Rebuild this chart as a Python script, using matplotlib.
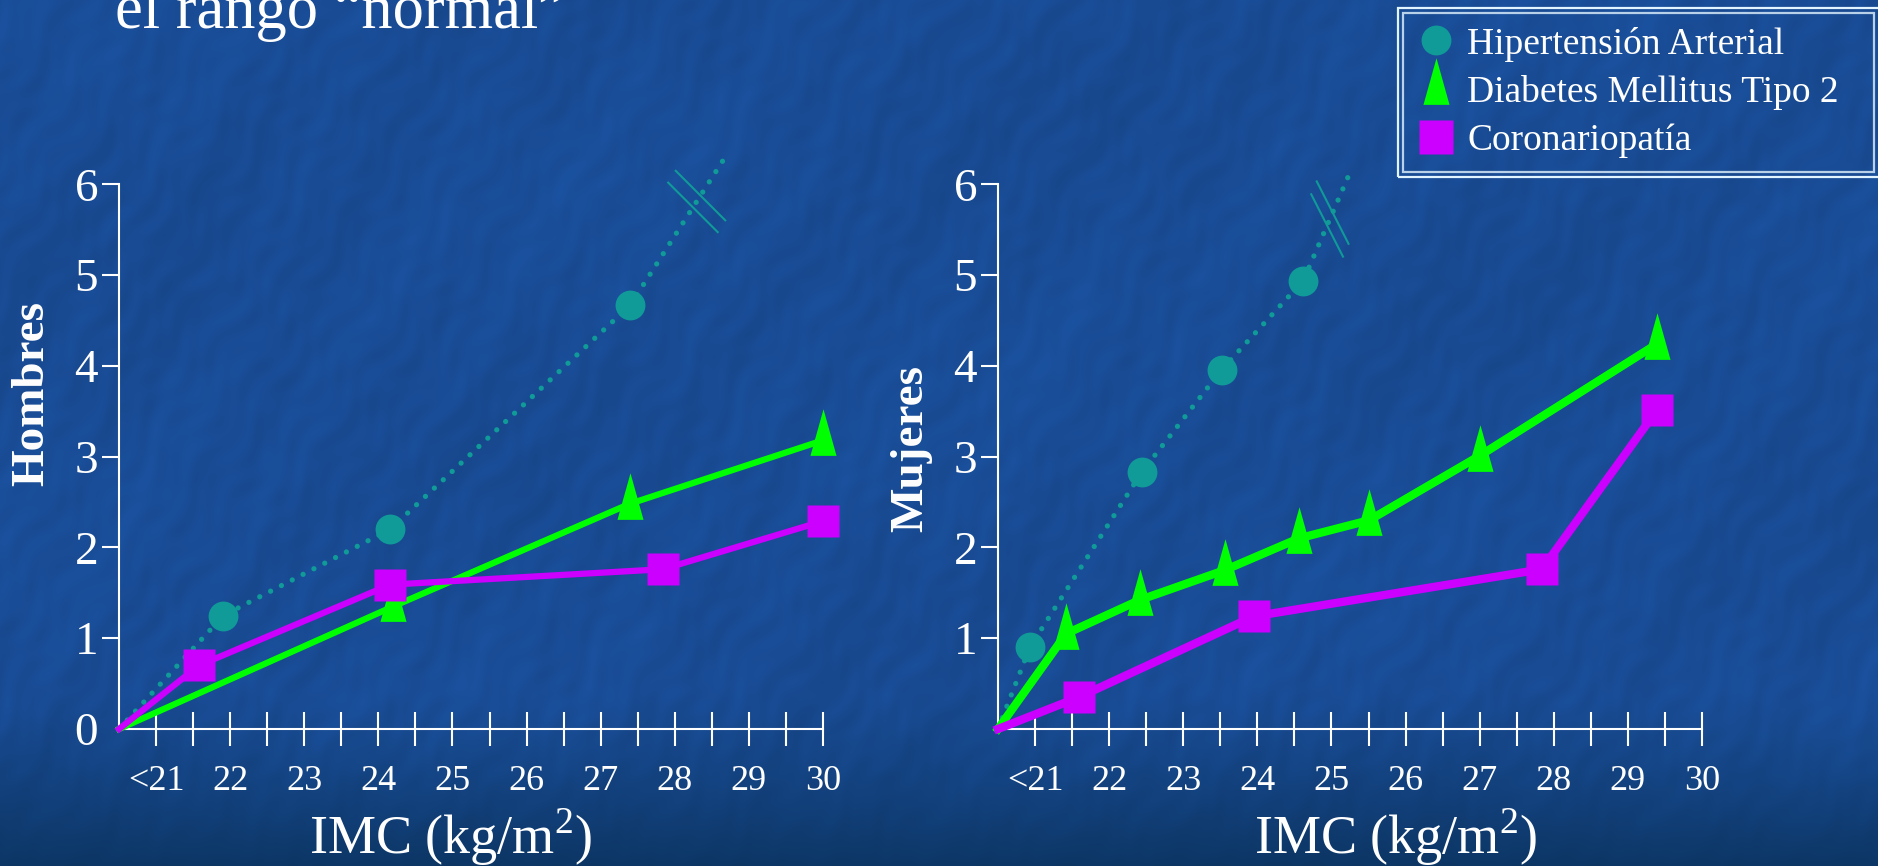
#!/usr/bin/env python3

import numpy as np
import matplotlib
matplotlib.use("Agg")
import matplotlib.pyplot as plt
from matplotlib.lines import Line2D
from matplotlib.patches import Rectangle

plt.rcParams["font.family"] = ["Liberation Serif", "DejaVu Serif"]
plt.rcParams["mathtext.fontset"] = "custom"
plt.rcParams["mathtext.rm"] = "Liberation Serif"

# IMC axis labels
imc_ticks = [21, 22, 23, 24, 25, 26, 27, 28, 29, 30]
imc_labels = ["<21", "22", "23", "24", "25", "26", "27", "28", "29", "30"]

series_names = ["Hipertensión Arterial", "Diabetes Mellitus Tipo 2", "Coronariopatía"]

# Hombres (each curve starts at the axis origin)
h_hta_x = [20.5, 21.91, 24.16, 27.40]
h_hta_y = [0.0, 1.25, 2.20, 4.67]
h_hta_off = [28.68, 6.30]          # dotted line runs off the scale
h_dm_x = [20.5, 24.20, 27.39, 30.0]
h_dm_y = [0.0, 1.35, 2.48, 3.18]
h_cor_x = [20.5, 21.58, 24.16, 27.84, 30.0]
h_cor_y = [0.0, 0.70, 1.59, 1.76, 2.29]

# Mujeres
m_hta_x = [20.5, 20.93, 22.44, 23.52, 24.62]
m_hta_y = [0.0, 0.90, 2.83, 3.96, 4.94]
m_hta_off = [25.26, 6.15]
m_dm_x = [20.5, 21.42, 22.41, 23.56, 24.56, 25.51, 27.0, 29.39]
m_dm_y = [0.0, 1.05, 1.42, 1.75, 2.10, 2.30, 3.01, 4.24]
m_cor_x = [20.5, 21.59, 23.95, 27.84, 29.39]
m_cor_y = [0.0, 0.35, 1.24, 1.76, 3.51]

TEAL = "#109a98"
GREEN = "#00ff00"
MAGENTA = "#cc00ff"

W, H, DPI = 1878, 866, 100

# tall, narrow triangle whose origin sits two thirds down from the tip
TRIANGLE = [(-0.28, -0.33), (0.28, -0.33), (0.0, 0.67), (-0.28, -0.33)]


def make_background():
    yy, xx = np.mgrid[0:H, 0:W].astype(float)
    along = xx * 0.5 - yy * 0.866
    across = xx * 0.866 + yy * 0.5
    tex = (0.35 * np.sin(across / 6.1 + 2.3 * np.sin(along / 47.0) + np.sin(xx / 23.0))
           + 0.30 * np.sin(across / 17.0 + 1.5 * np.sin(along / 83.0 + yy / 57.0))
           + 0.25 * np.sin(across / 3.7 + 2.6 * np.sin(along / 19.0 + xx / 41.0))
           + 0.25 * np.sin(xx / 29.0 + np.sin(yy / 13.0) * 1.8)
           * np.sin(yy / 31.0 + np.sin(xx / 17.0) * 1.6)
           + 0.30 * np.sin(xx / 113.0 + yy / 71.0)
           + 0.20 * np.sin(xx / 211.0 - yy / 97.0 + 0.8))
    tex = tex / 1.6
    base = np.array([25, 76, 149]) / 255.0
    img = base[None, None, :] * (1.0 + 0.08 * tex[..., None])
    bottom = np.array([10, 50, 92]) / 255.0
    w = np.clip((yy - 690) / 176.0, 0, 1) ** 1.3 * 0.85
    img = img * (1 - w[..., None]) + bottom[None, None, :] * w[..., None]
    return np.clip(img, 0, 1)


def draw_panel(ax, hta_x, hta_y, hta_off, dm_x, dm_y, cor_x, cor_y,
               lw, yticks, brk_frac, brk_angle):
    ax.set_xlim(20.5, 30.0)
    ax.set_ylim(0, 6.4)
    ax.patch.set_visible(False)

    ax.plot(hta_x + [hta_off[0]], hta_y + [hta_off[1]], color=TEAL, lw=3.8,
            ls=(0, (0.01, 2.3)), dash_capstyle="round", clip_on=False, zorder=2)
    ax.plot(hta_x[1:], hta_y[1:], ls="none", marker="o", ms=21.5,
            color=TEAL, mec="none", clip_on=False, zorder=2)
    ax.plot(dm_x, dm_y, color=GREEN, lw=lw, marker=TRIANGLE, ms=45,
            mec="none", markevery=slice(1, None), clip_on=False, zorder=3)
    ax.plot(cor_x, cor_y, color=MAGENTA, lw=lw, marker="s", ms=23,
            mec="none", markevery=slice(1, None), clip_on=False, zorder=4)

    # break marks on the off-scale part of the dotted line
    p0 = ax.transData.transform((hta_x[-1], hta_y[-1]))
    p1 = ax.transData.transform(hta_off)
    u = (p1 - p0) / np.hypot(*(p1 - p0))
    c = p0 + brk_frac * (p1 - p0)
    a = np.radians(brk_angle)
    d = np.array([np.cos(a), np.sin(a)])
    inv = ax.transData.inverted()
    for s in (-1, 1):
        cc = c + s * 7 * u
        seg = inv.transform([cc - 35 * d, cc + 35 * d])
        ax.plot(seg[:, 0], seg[:, 1], color=TEAL, lw=1.5, clip_on=False, zorder=2)

    for side in ("top", "right"):
        ax.spines[side].set_visible(False)
    for side in ("left", "bottom"):
        ax.spines[side].set_color("white")
        ax.spines[side].set_linewidth(1.5)
    ax.spines["left"].set_bounds(0, 6)

    ax.set_xticks(imc_ticks)
    ax.set_xticklabels(imc_labels)
    ax.set_xticks(np.arange(21.5, 30, 1.0), minor=True)
    ax.tick_params(axis="x", which="both", direction="inout", length=24,
                   width=1.5, color="white", labelsize=26, labelcolor="white", pad=14)
    ax.set_yticks(yticks)
    ax.set_yticklabels([str(v) for v in yticks])
    ax.tick_params(axis="y", direction="out", length=12, width=1.5,
                   color="white", labelsize=34, labelcolor="white", pad=3)
    if yticks[0] == 0:
        ax.yaxis.get_major_ticks()[0].tick1line.set_visible(False)


fig = plt.figure(figsize=(W / DPI, H / DPI), dpi=DPI)

bg = fig.add_axes([0, 0, 1, 1])
bg.imshow(make_background(), aspect="auto", interpolation="bilinear")
bg.axis("off")

bottom = (H - 729) / H
height = (729 - 148) / H
ax_h = fig.add_axes([119 / W, bottom, 704 / W, height])
ax_m = fig.add_axes([998 / W, bottom, 704 / W, height])

draw_panel(ax_h, h_hta_x, h_hta_y, h_hta_off, h_dm_x, h_dm_y, h_cor_x, h_cor_y,
           lw=4.5, yticks=[0, 1, 2, 3, 4, 5, 6], brk_frac=0.7, brk_angle=-45)
draw_panel(ax_m, m_hta_x, m_hta_y, m_hta_off, m_dm_x, m_dm_y, m_cor_x, m_cor_y,
           lw=6.0, yticks=[1, 2, 3, 4, 5, 6], brk_frac=0.56, brk_angle=-63)

fig.text(32 / W, 1 - 393 / H, "Hombres", rotation=90, ha="center", va="center",
         fontsize=34, fontweight="bold", color="white")
fig.text(911 / W, 1 - 449 / H, "Mujeres", rotation=90, ha="center", va="center",
         fontsize=34, fontweight="bold", color="white")
for xc in (451, 1396):
    fig.text(xc / W, 1 - 854 / H, r"IMC (kg/m$^{\mathrm{2}}$)", ha="center",
             va="baseline", fontsize=39, color="white")

fig.text(115 / W, 1 - 28 / H, "el rango \u201cnormal\u201d", ha="left",
         va="baseline", fontsize=45, color="white")

handles = [
    Line2D([], [], ls="none", marker="o", ms=21.5, color=TEAL, mec="none"),
    Line2D([], [], ls="none", marker=TRIANGLE, ms=45, color=GREEN, mec="none"),
    Line2D([], [], ls="none", marker="s", ms=24, color=MAGENTA, mec="none"),
]
leg = fig.legend(handles, series_names, loc="upper left",
                 bbox_to_anchor=(1403 / W, (H - 165) / H, 471 / W, 152 / H),
                 mode="expand", fontsize=27, labelcolor="white", frameon=True,
                 fancybox=False, facecolor="none", edgecolor="#e2f4ff",
                 handlelength=1.05, handletextpad=0.3, labelspacing=0.36,
                 borderpad=0.36, borderaxespad=0)
leg.get_frame().set_linewidth(1.6)

fig.canvas.draw()
bb = leg.get_window_extent().transformed(fig.transFigure.inverted())
fig.add_artist(Rectangle((bb.x0 - 5 / W, bb.y0 - 5 / H), bb.width + 10 / W,
                         bb.height + 10 / H, transform=fig.transFigure,
                         fill=False, edgecolor="#e2f4ff", lw=1.6))

fig.savefig("out.png", dpi=DPI)
